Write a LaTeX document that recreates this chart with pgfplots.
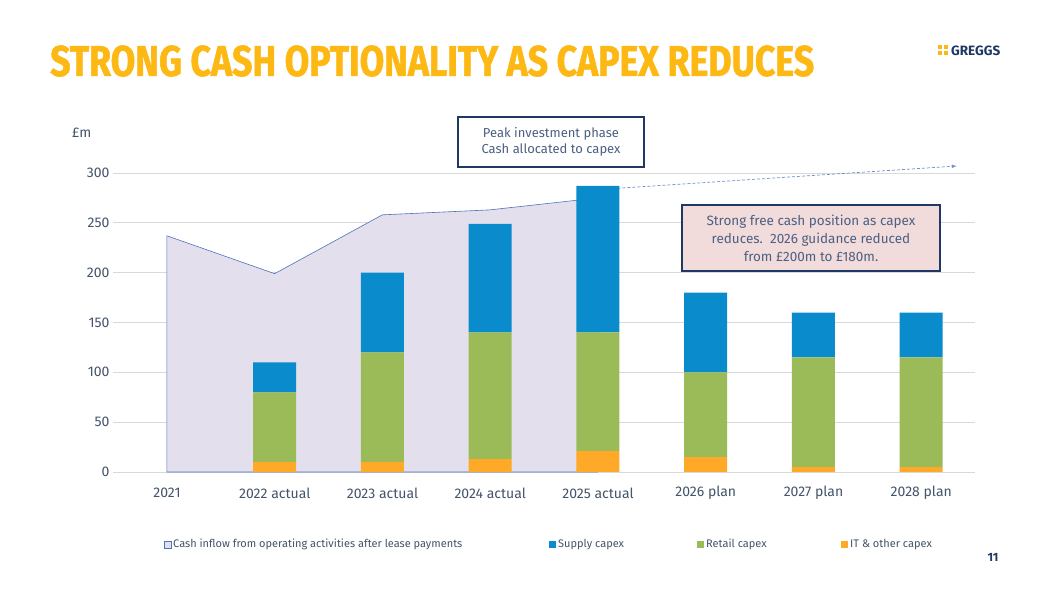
\documentclass[border=0pt]{standalone}
\usepackage{pgfplots}
\pgfplotsset{compat=1.18}
\usepackage{fontspec}
\setmainfont{Fira Sans}
\definecolor{supply}{HTML}{0A8BCC}
\definecolor{retail}{HTML}{9BBB59}
\definecolor{itc}{HTML}{FFA928}
\definecolor{gy}{HTML}{FDB813}
\definecolor{txt}{HTML}{44546A}
\definecolor{navy}{HTML}{1F3864}
\definecolor{area}{HTML}{E4DFEC}
\definecolor{aline}{HTML}{4F72BE}
\definecolor{pinkbox}{HTML}{F2DCDB}
\pgfplotsset{base/.style={at={(113pt,121pt)},anchor=south west,scale only axis,width=862pt,height=299pt,
 xmin=-0.5,xmax=7.5,ymin=0,ymax=300,clip=false}}
\begin{document}
\begin{tikzpicture}[x=1pt,y=1pt]
\fill[white] (0,0) rectangle (1058,593);
\node[anchor=west,text=gy,font=\fontsize{43}{43}\selectfont\bfseries,inner sep=0] at (50,532) {\addfontfeatures{FakeStretch=0.83,FakeBold=1.2}STRONG CASH OPTIONALITY AS CAPEX REDUCES};
\foreach \dx/\dy in {0/0,5.5/0,0/5.5,5.5/5.5}{\fill[gy] (938+\dx,538+\dy) rectangle ++(4.2,4.2);}
\node[anchor=west,font=\fontsize{13.5}{13.5}\selectfont\bfseries,text=navy,inner sep=0] at (951,542) {GREGGS};
\node[anchor=west,font=\fontsize{14}{14}\selectfont,text=txt,inner sep=0] at (72,460) {£m};
\node[font=\fontsize{12}{12}\selectfont\bfseries,text=navy] at (993,593-557) {11};
\begin{axis}[base,axis line style={draw=none},tick style={draw=none},
 ytick={0,50,...,300},ymajorgrids,grid style={draw=black!15,line width=0.8pt},
 xtick=\empty,
 ticklabel style={font=\fontsize{14}{14}\selectfont,text=txt},
 /pgf/number format/assume math mode=true]
\addplot[draw=aline,line width=0.6pt,fill=area] coordinates {(0,0)(0,237)(1,199)(2,258)(3,263)(4,275)(4,0)} -- cycle;
\addplot[densely dashed,-latex,draw=aline!80,line width=0.7pt] coordinates {(3.95,283)(7.33,307)};
\end{axis}
\begin{axis}[base,axis lines=none,ybar stacked,bar width=43pt]
\addplot[fill=itc,draw=none] coordinates {(1,10)(2,10)(3,13)(4,21)(5,15)(6,5)(7,5)};
\addplot[fill=retail,draw=none] coordinates {(1,70)(2,110)(3,127)(4,119)(5,85)(6,110)(7,110)};
\addplot[fill=supply,draw=none] coordinates {(1,30)(2,80)(3,109)(4,147)(5,80)(6,45)(7,45)};
\end{axis}
\foreach \i/\l in {0/2021,1/2022 actual,2/2023 actual,3/2024 actual,4/2025 actual,5/2026 plan,6/2027 plan,7/2028 plan}
 \node[font=\fontsize{14}{14}\selectfont,text=txt] at (167+107.75*\i,593-493) {\l};
\begin{scope}[font=\fontsize{11}{11}\selectfont,text=txt]
\draw[aline,fill=area,line width=0.6pt] (164,593-548) rectangle ++(7,7);
\node[anchor=west,inner sep=0] at (173,593-544.5) {Cash inflow from operating activities after lease payments};
\fill[supply] (549,593-548) rectangle ++(7,7);
\node[anchor=west,inner sep=0] at (558,593-544.5) {Supply capex};
\fill[retail] (697,593-548) rectangle ++(7,7);
\node[anchor=west,inner sep=0] at (706,593-544.5) {Retail capex};
\fill[itc] (841,593-548) rectangle ++(7,7);
\node[anchor=west,inner sep=0] at (850,593-544.5) {IT \& other capex};
\end{scope}
\node[draw=navy,line width=1.5pt,fill=white,align=center,text=navy!80,font=\fontsize{13}{16}\selectfont,minimum width=186pt,minimum height=50pt] at (551,593-142) {Peak investment phase\\Cash allocated to capex};
\node[draw=navy,line width=1.5pt,fill=pinkbox,align=center,text=navy!80,font=\fontsize{13.5}{18}\selectfont,minimum width=258pt,minimum height=66pt] at (811,593-238) {Strong free cash position as capex\\reduces.\ \ 2026 guidance reduced\\from £200m to £180m.};
\end{tikzpicture}
\end{document}
